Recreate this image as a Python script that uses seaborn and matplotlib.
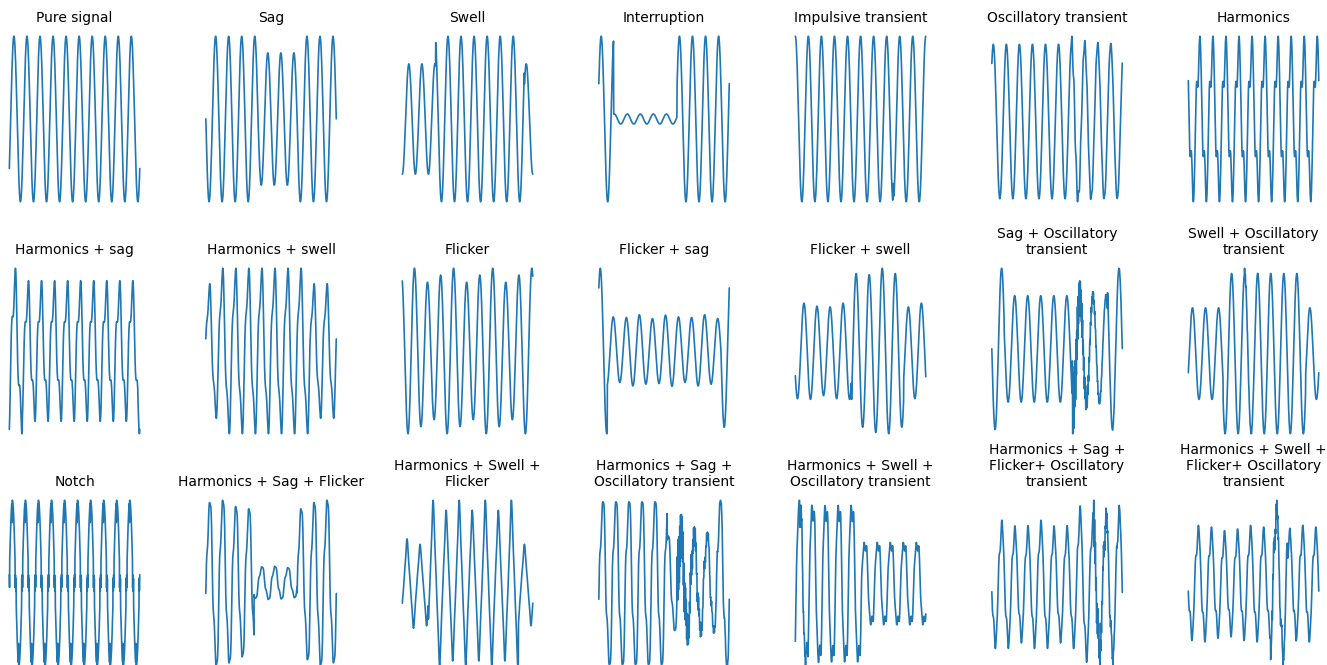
import numpy as np
import pandas as pd
import seaborn as sns
import matplotlib
matplotlib.use('Agg')
import matplotlib.pyplot as plt

# panel titles, row by row
titles = ['Pure signal', 'Sag', 'Swell', 'Interruption', 'Impulsive transient',
          'Oscillatory transient', 'Harmonics',
          'Harmonics + sag', 'Harmonics + swell', 'Flicker', 'Flicker + sag',
          'Flicker + swell', 'Sag + Oscillatory\ntransient', 'Swell + Oscillatory\ntransient',
          'Notch', 'Harmonics + Sag + Flicker', 'Harmonics + Swell +\nFlicker',
          'Harmonics + Sag +\nOscillatory transient', 'Harmonics + Swell +\nOscillatory transient',
          'Harmonics + Sag +\nFlicker+ Oscillatory\ntransient',
          'Harmonics + Swell +\nFlicker+ Oscillatory\ntransient']

n_cycles = 10
samples_per_cycle = 64

# starting phase of the fundamental (rad)
phase = [-0.64, 3.14, -1.57, 0.44, 1.57, 0.85, 2.6,
         -1.0, 0.0, 2.0, 0.88, 3.69, 3.14, -0.43,
         0.1, -0.25, -0.69, -0.3, -0.5, 3.14, 3.14]

# sag / swell / interruption: amplitude during the event, start and end (cycles)
event_amp = [1.0, 0.8, 1.5, 0.06, 1.0, 1.0, 1.0,
             0.85, 1.23, 1.0, 0.43, 1.72, 0.66, 1.75,
             1.0, 0.2, 1.85, 0.58, 1.9, 0.82, 1.5]
event_start = [0, 4.0, 2.55, 1.14, 0, 0, 0,
               1.0, 1.0, 0, 0.65, 4.3, 0.95, 2.66,
               0, 3.7, 2.0, 5.25, 0.0, 0.0, 6.3]
event_end = [0, 7.0, 9.35, 6.0, 0, 0, 0,
             9.85, 8.0, 0, 9.35, 8.3, 8.86, 9.0,
             0, 7.0, 8.9, 9.0, 5.05, 6.5, 7.6]

# 3rd and 5th harmonic content
h3_amp = [0, 0, 0, 0, 0, 0, 0.3,
          0.3, 0.2, 0, 0, 0, 0, 0,
          0, 0.12, 0.12, 0.15, 0.15, 0.12, 0.15]
h3_phase = [0, 0, 0, 0, 0, 0, 1.57,
            1.57, 1.57, 0, 0, 0, 0, 0,
            0, 1.57, 3.14, 1.57, 0.0, 1.57, 1.57]
h5_amp = [0, 0, 0, 0, 0, 0, 0.05,
          0, 0, 0, 0, 0, 0, 0,
          0, 0.08, 0.05, 0.08, 0.1, 0.08, 0.08]
h5_phase = [0, 0, 0, 0, 0, 0, 0,
            0, 0, 0, 0, 0, 0, 0,
            0, 1.57, 0, 1.57, 1.57, 0, 0]

# flicker: modulation depth, period (cycles), phase
flick_amp = [0, 0, 0, 0, 0, 0, 0,
             0, 0, 0.107, 0.06, 0.05, 0, 0,
             0, 0.06, 0.07, 0, 0, 0.06, 0.05]
flick_period = [1, 1, 1, 1, 1, 1, 1,
                1, 1, 3, 2.5, 3, 1, 1,
                1, 4, 2, 1, 1, 3, 4]
flick_phase = [0, 0, 0, 0, 0, 0, 0,
               0, 0, 0.15, 0.5, 0, 0, 0,
               0, 0, 0, 0, 0, 0, 0]

# oscillatory transient: amplitude, start (cycles), frequency (x fundamental), decay (cycles)
trans_amp = [0, 0, 0, 0, 0, 0.12, 0,
             0, 0, 0, 0, 0, 0.45, 0.12,
             0, 0, 0, 0.35, 0.25, 0.3, 0.25]
trans_start = [0, 0, 0, 0, 0, 6.1, 0,
               0, 0, 0, 0, 0, 6.16, 4.3,
               0, 0, 0, 6.0, 0.3, 7.8, 6.4]
trans_freq = [1, 1, 1, 1, 1, 6, 1,
              1, 1, 1, 1, 1, 18, 18,
              1, 1, 1, 16, 16, 16, 16]
trans_tau = [1, 1, 1, 1, 1, 1.5, 1,
             1, 1, 1, 1, 1, 0.8, 0.3,
             1, 1, 1, 1.2, 0.5, 0.8, 0.6]

# impulsive transient: amplitude, position (cycles)
imp_amp = [0, 0, 0, 0, 0.25, 0, 0,
           0, 0, 0, 0, 0, 0, 0,
           0, 0, 0, 0, 0, 0, 0]
imp_pos = [0, 0, 0, 0, 7.48, 0, 0,
           0, 0, 0, 0, 0, 0, 0,
           0, 0, 0, 0, 0, 0, 0]

# notch depth and notch positions (deg)
notch_depth = [0, 0, 0, 0, 0, 0, 0,
               0, 0, 0, 0, 0, 0, 0,
               0.25, 0, 0, 0, 0, 0, 0]
notch_angles = [12, 80, 168, 192, 260, 348]

cyc = np.linspace(0, n_cycles, n_cycles * samples_per_cycle + 1)


def make_wave(i):
    th = 2 * np.pi * cyc + phase[i]
    y = (np.sin(th) + h3_amp[i] * np.sin(3 * th + h3_phase[i])
         + h5_amp[i] * np.sin(5 * th + h5_phase[i]))
    env = np.where((cyc >= event_start[i]) & (cyc < event_end[i]), event_amp[i], 1.0)
    flick = 1 + flick_amp[i] * np.sin(2 * np.pi * cyc / flick_period[i] + flick_phase[i])
    y = y * env * flick
    if notch_depth[i]:
        deg = np.degrees(th) % 360
        for a in notch_angles:
            hit = np.abs(deg - a) < 3
            y[hit] -= notch_depth[i] * np.sign(np.sin(th[hit]))
    if trans_amp[i]:
        dt = cyc - trans_start[i]
        on = dt >= 0
        y[on] += (trans_amp[i] * np.exp(-dt[on] / trans_tau[i])
                  * np.sin(2 * np.pi * trans_freq[i] * dt[on]))
    if imp_amp[i]:
        dt = cyc - imp_pos[i]
        on = dt >= 0
        y[on] += imp_amp[i] * np.exp(-dt[on] / 0.03)
    return y


sns.set_style("white")
plt.rcParams['text.color'] = 'black'
fig = plt.figure(figsize=(13.27, 6.65), dpi=100)
W, H = 1327, 665
for i, title in enumerate(titles):
    row, col = divmod(i, 7)
    left = 2.8 + 196.5 * col
    top = 28 + 232 * row
    ax = fig.add_axes([left / W, 1 - (top + 182) / H, 143.5 / W, 182 / H])
    df = pd.DataFrame({'cycle': cyc, 'value': make_wave(i)})
    sns.lineplot(data=df, x='cycle', y='value', ax=ax, color='#1f77b4',
                 linewidth=1.2, estimator=None, sort=False)
    ax.set_title(title, fontsize=10, pad=4, color='black')
    ax.axis('off')

fig.savefig('out.png', dpi=100)
